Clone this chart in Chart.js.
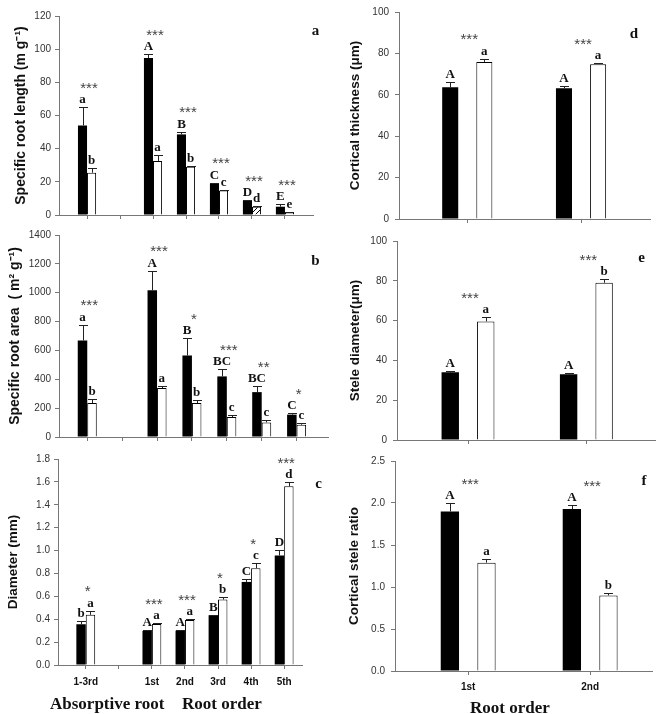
<!DOCTYPE html>
<html>
<head>
<meta charset="utf-8">
<script src="https://cdn.jsdelivr.net/npm/chart.js@4"></script>
<style>
  body { margin: 0; background: #fff; }
  #fig { position: relative; width: 660px; height: 714px; overflow: hidden; }
  canvas { position: absolute; }
  .note { position: absolute; font: bold 17px "Liberation Serif", "Times New Roman", serif; line-height: 17px; white-space: nowrap; color: #111; }
</style>
</head>
<body>
<div id="fig">
  <canvas id="pa" width="330" height="232" style="left:0;top:0"></canvas>
  <canvas id="pb" width="330" height="235" style="left:0;top:219px"></canvas>
  <canvas id="pc" width="330" height="252" style="left:0;top:443px"></canvas>
  <canvas id="pd" width="330" height="236" style="left:330px;top:0"></canvas>
  <canvas id="pe" width="330" height="232" style="left:330px;top:225px"></canvas>
  <canvas id="pf" width="330" height="256" style="left:330px;top:445px"></canvas>
  <div class="note" style="left:50px;top:695px">Absorptive root</div>
  <div class="note" style="left:182px;top:695px">Root order</div>
  <div class="note" style="left:470px;top:699px">Root order</div>
</div>
<script>
// root traits figure: six grouped bar panels with SE whiskers and letter marks

const LEFT_SLOTS  = ['1-3rd', '', '1st', '2nd', '3rd', '4th', '5th'];
const LEFT_GROUPS = ['1-3rd', '1st', '2nd', '3rd', '4th', '5th'];
const RIGHT_SLOTS = ['1st', '2nd'];

// a - specific root length
const srlBlack    = [54, 94.7, 48.6, 19, 8.6, 5];
const srlBlackErr = [11, 2.3, 1.6, 0.3, 0.4, 1.6];
const srlWhite    = [25.5, 32.6, 29.1, 14.7, 5, 1.4];
const srlWhiteErr = [2.8, 3.4, 0.6, 0.4, 0.2, 0.4];
const srlBlackLet = ['a', 'A', 'B', 'C', 'D', 'E'];
const srlWhiteLet = ['b', 'a', 'b', 'c', 'd', 'e'];
const srlStars    = ['***', '***', '***', '***', '***', '***'];

// b - specific root area
const sraBlack    = [669, 1017, 565, 420, 311, 155];
const sraBlackErr = [108, 136, 120, 50, 42, 11];
const sraWhite    = [235, 339, 235, 138, 101, 85];
const sraWhiteErr = [30, 16, 23, 17, 14, 12];
const sraBlackLet = ['a', 'A', 'B', 'BC', 'BC', 'C'];
const sraWhiteLet = ['b', 'a', 'b', 'c', 'c', 'c'];
const sraStars    = ['***', '***', '*', '***', '**', '*'];

// c - diameter
const diaBlack    = [0.356, 0.298, 0.30, 0.435, 0.726, 0.957];
const diaBlackErr = [0.03, 0.005, 0.005, 0.006, 0.027, 0.045];
const diaWhite    = [0.438, 0.359, 0.394, 0.572, 0.846, 1.561];
const diaWhiteErr = [0.037, 0.006, 0.006, 0.018, 0.044, 0.035];
const diaBlackLet = ['b', 'A', 'A', 'B', 'C', 'D'];
const diaWhiteLet = ['a', 'a', 'a', 'b', 'c', 'd'];
const diaStars    = ['*', '***', '***', '*', '*', '***'];

// d - cortical thickness
const ctBlack    = [63.6, 63.2];
const ctBlackErr = [2.6, 1.0];
const ctWhite    = [75.9, 74.8];
const ctWhiteErr = [1.5, 0.4];

// e - stele diameter
const sdBlack    = [34, 33];
const sdBlackErr = [0.8, 0.5];
const sdWhite    = [59.6, 79];
const sdWhiteErr = [2, 1.7];

// f - cortical stele ratio
const csrBlack    = [1.90, 1.929];
const csrBlackErr = [0.096, 0.047];
const csrWhite    = [1.29, 0.90];
const csrWhiteErr = [0.04, 0.025];

const AXIS = '#777';
const SANS = '"Liberation Sans", Arial, sans-serif';
const SERIF = '"Liberation Serif", "Times New Roman", serif';

// diagonal hatch used for one bar in panel a
function hatch() {
  const c = document.createElement('canvas');
  c.width = 5; c.height = 5;
  const g = c.getContext('2d');
  g.fillStyle = '#fff';
  g.fillRect(0, 0, 5, 5);
  g.strokeStyle = '#000';
  g.beginPath();
  g.moveTo(0, 5); g.lineTo(5, 0);
  g.stroke();
  return g.createPattern(c, 'repeat');
}

// whiskers, letters above bars, significance stars and the panel letter
const marks = {
  id: 'marks',
  afterDatasetsDraw(chart, args, opts) {
    const { ctx, scales: { x, y } } = chart;
    const base = [];
    ctx.save();
    ctx.textAlign = 'center';
    ctx.textBaseline = 'alphabetic';
    chart.data.datasets.forEach((ds, di) => {
      chart.getDatasetMeta(di).data.forEach((bar, i) => {
        const top = y.getPixelForValue(ds.data[i].y + ds.errors[i]);
        const bx = Math.round(bar.x) + 0.5;
        const ty = Math.round(top) + 0.5;
        ctx.strokeStyle = '#222';
        ctx.lineWidth = 1;
        ctx.beginPath();
        ctx.moveTo(bx, bar.y);
        ctx.lineTo(bx, ty);
        ctx.moveTo(bx - opts.cap / 2, ty);
        ctx.lineTo(bx + opts.cap / 2, ty);
        ctx.stroke();
        ctx.font = 'bold 13px ' + SERIF;
        ctx.fillStyle = '#111';
        ctx.fillText(ds.letters[i], bar.x, top - 4);
        base[i] = Math.min(base[i] ?? Infinity, top - 4);
      });
    });
    ctx.font = '15px ' + SANS;
    ctx.fillStyle = '#444';
    opts.stars.forEach((s, i) => {
      ctx.fillText(s, x.getPixelForValue(opts.slots[i]) + 2, base[i] - 10.5);
    });
    ctx.font = 'bold 15px ' + SERIF;
    ctx.fillStyle = '#111';
    ctx.fillText(opts.label[0], opts.label[1], opts.label[2]);
    ctx.restore();
  }
};

function panel(id, p) {
  const slotIdx = p.groups.map(g => p.slots.indexOf(g));
  const pts = vals => vals.map((v, i) => ({ x: slotIdx[i], y: v }));
  new Chart(document.getElementById(id), {
    type: 'bar',
    data: {
      datasets: [
        { data: pts(p.black), errors: p.blackErr, letters: p.blackLet,
          backgroundColor: '#000', borderWidth: 0 },
        { data: pts(p.white), errors: p.whiteErr, letters: p.whiteLet,
          backgroundColor: p.whiteFill || '#fff', borderColor: '#000', borderWidth: 1 }
      ]
    },
    options: {
      responsive: false,
      animation: false,
      devicePixelRatio: 1,
      layout: { padding: p.pad },
      datasets: { bar: { categoryPercentage: p.catPct, barPercentage: p.barPct } },
      plugins: {
        legend: { display: false },
        tooltip: { enabled: false },
        marks: { cap: 9, stars: p.stars, slots: slotIdx, label: p.label }
      },
      scales: {
        x: {
          type: 'linear',
          min: p.xMin,
          max: p.xMax,
          offset: false,
          grid: { offset: false, drawOnChartArea: false, tickLength: 4, color: AXIS },
          border: { color: AXIS },
          afterBuildTicks: s => { s.ticks = p.slots.map((_, i) => ({ value: i })); },
          afterFit: s => { s.height = p.xHeight; },
          ticks: {
            display: !!p.xLabels,
            autoSkip: false,
            maxRotation: 0,
            padding: p.xPad || 4,
            color: '#111',
            font: { family: SANS, size: 10, weight: 'bold' },
            callback: v => p.slots[v] ?? ''
          }
        },
        y: {
          min: 0,
          max: p.yMax,
          grid: { drawOnChartArea: false, tickLength: 4, color: AXIS },
          border: { color: AXIS },
          afterFit: s => { s.width = p.yWidth; },
          ticks: {
            stepSize: p.step,
            padding: p.yPad,
            color: '#333',
            font: { family: SANS, size: 10 },
            callback: v => Number(v).toFixed(p.decimals)
          },
          title: {
            display: true,
            text: p.title,
            color: '#111',
            font: { family: SANS, size: p.titleSize, weight: 'bold' },
            padding: { top: p.titlePad, bottom: 0 }
          }
        }
      }
    },
    plugins: [marks]
  });
}

const white4 = ['#fff', '#fff', '#fff', '#fff', hatch(), '#fff'];

panel('pa', {
  slots: LEFT_SLOTS, groups: LEFT_GROUPS,
  black: srlBlack, blackErr: srlBlackErr, white: srlWhite, whiteErr: srlWhiteErr,
  blackLet: srlBlackLet, whiteLet: srlWhiteLet, stars: srlStars, whiteFill: white4,
  yMax: 120, step: 20, decimals: 0,
  title: 'Specific root length (m g\u207B\u00B9)', titleSize: 14, titlePad: 12.5,
  pad: { left: 0, top: 16, right: 17, bottom: 0 }, yWidth: 59, yPad: 4, xHeight: 17,
  xMin: -0.85, xMax: 6.85, catPct: 0.55, barPct: 1,
  label: ['a', 315.5, 35]
});

panel('pb', {
  slots: LEFT_SLOTS, groups: LEFT_GROUPS,
  black: sraBlack, blackErr: sraBlackErr, white: sraWhite, whiteErr: sraWhiteErr,
  blackLet: sraBlackLet, whiteLet: sraWhiteLet, stars: sraStars,
  yMax: 1400, step: 200, decimals: 0,
  title: 'Specific root area  ( m\u00B2 g\u207B\u00B9)', titleSize: 14, titlePad: 6.5,
  pad: { left: 0, top: 16, right: 2, bottom: 0 }, yWidth: 59, yPad: 4, xHeight: 17,
  xMin: -0.81, xMax: 6.9, catPct: 0.545, barPct: 1,
  label: ['b', 315.5, 46]
});

panel('pc', {
  slots: LEFT_SLOTS, groups: LEFT_GROUPS,
  black: diaBlack, blackErr: diaBlackErr, white: diaWhite, whiteErr: diaWhiteErr,
  blackLet: diaBlackLet, whiteLet: diaWhiteLet, stars: diaStars,
  yMax: 1.8, step: 0.2, decimals: 1,
  title: 'Diameter (mm)', titleSize: 13.5, titlePad: 5.5,
  pad: { left: 0, top: 16, right: 28, bottom: 0 }, yWidth: 58, yPad: 4, xHeight: 30,
  xLabels: true, xPad: 7,
  xMin: -0.84, xMax: 6.54, catPct: 0.57, barPct: 1,
  label: ['c', 318.5, 45]
});

panel('pd', {
  slots: RIGHT_SLOTS, groups: RIGHT_SLOTS,
  black: ctBlack, blackErr: ctBlackErr, white: ctWhite, whiteErr: ctWhiteErr,
  blackLet: ['A', 'A'], whiteLet: ['a', 'a'], stars: ['***', '***'],
  yMax: 100, step: 20, decimals: 0,
  title: 'Cortical thickness (\u03BCm)', titleSize: 13.5, titlePad: 17.5,
  pad: { left: 0, top: 7, right: 10, bottom: 0 }, yWidth: 69, yPad: 6, xHeight: 17,
  xMin: -0.6, xMax: 1.606, catPct: 0.6, barPct: 0.47,
  label: ['d', 304, 38]
});

panel('pe', {
  slots: RIGHT_SLOTS, groups: RIGHT_SLOTS,
  black: sdBlack, blackErr: sdBlackErr, white: sdWhite, whiteErr: sdWhiteErr,
  blackLet: ['A', 'A'], whiteLet: ['a', 'b'], stars: ['***', '***'],
  yMax: 100, step: 20, decimals: 0,
  title: 'Stele diameter(\u03BCm)', titleSize: 13.5, titlePad: 17.5,
  pad: { left: 0, top: 16, right: 5, bottom: 0 }, yWidth: 67, yPad: 6, xHeight: 17,
  xMin: -0.6, xMax: 1.58, catPct: 0.6, barPct: 0.49,
  label: ['e', 311.5, 37]
});

panel('pf', {
  slots: RIGHT_SLOTS, groups: RIGHT_SLOTS,
  black: csrBlack, blackErr: csrBlackErr, white: csrWhite, whiteErr: csrWhiteErr,
  blackLet: ['A', 'A'], whiteLet: ['a', 'b'], stars: ['***', '***'],
  yMax: 2.5, step: 0.5, decimals: 1,
  title: 'Cortical stele ratio', titleSize: 13.5, titlePad: 16,
  pad: { left: 0, top: 16, right: 8, bottom: 0 }, yWidth: 65, yPad: 6, xHeight: 30,
  xLabels: true, xPad: 6,
  xMin: -0.6, xMax: 1.507, catPct: 0.6, barPct: 0.5,
  label: ['f', 314, 40]
});
</script>
</body>
</html>
